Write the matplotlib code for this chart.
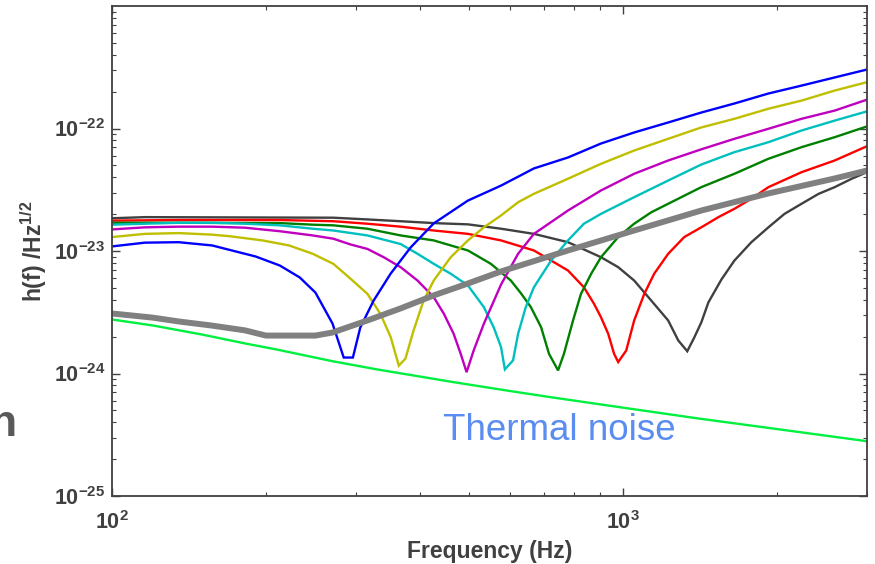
import matplotlib
matplotlib.use('Agg')
import matplotlib.pyplot as plt
from matplotlib.ticker import LogLocator, NullFormatter, FixedLocator, FixedFormatter

plt.rcParams['font.family'] = ['Liberation Sans', 'DejaVu Sans']
plt.rcParams['font.weight'] = 'bold'
plt.rcParams['mathtext.fontset'] = 'custom'
plt.rcParams['mathtext.rm'] = 'Liberation Sans:bold'
plt.rcParams['mathtext.bf'] = 'Liberation Sans:bold'
plt.rcParams['mathtext.it'] = 'Liberation Sans:italic:bold'
plt.rcParams['mathtext.default'] = 'bf'

# ---- data (h values in units of 1e-23 /Hz^1/2) ----
UNIT = 1e-23

f_blue = [100, 116, 135, 157, 170, 191, 213, 233, 250, 270, 284, 296, 306, 325, 351, 384, 426,
          497, 577, 669, 780, 905, 1051, 1225, 1422, 1651, 1924, 2234, 2593, 3000]
h_blue = [1.09, 1.17, 1.18, 1.11, 1.02, 0.902, 0.761, 0.608, 0.458, 0.256, 0.135, 0.135, 0.237,
          0.394, 0.655, 1.07, 1.68, 2.58, 3.42, 4.72, 5.80, 7.54, 9.28, 11.2, 13.5, 16.0, 19.3,
          22.4, 26.1, 30.3]

f_yellow = [100, 116, 135, 157, 170, 197, 222, 247, 271, 293, 316, 335, 351, 364, 375, 389, 407,
            426, 460, 497, 534, 577, 623, 669, 780, 905, 1051, 1225, 1422, 1651, 1924, 2234,
            2593, 3000]
h_yellow = [1.30, 1.38, 1.40, 1.36, 1.32, 1.22, 1.11, 0.949, 0.786, 0.593, 0.447, 0.307, 0.198,
            0.116, 0.132, 0.224, 0.394, 0.574, 0.890, 1.22, 1.56, 1.95, 2.50, 2.93, 3.89, 5.15,
            6.61, 8.24, 10.2, 12.0, 14.5, 16.9, 20.4, 23.9]

f_magenta = [100, 116, 135, 157, 182, 213, 247, 271, 293, 316, 340, 367, 396, 426, 446, 466, 481,
             494, 510, 534, 577, 623, 669, 780, 905, 1051, 1225, 1422, 1651, 1924, 2234, 2593,
             3000]
h_magenta = [1.50, 1.56, 1.58, 1.58, 1.55, 1.45, 1.34, 1.26, 1.13, 1.04, 0.890, 0.738, 0.574,
             0.420, 0.307, 0.211, 0.145, 0.1025, 0.154, 0.255, 0.533, 0.949, 1.38, 2.14, 3.12,
             4.27, 5.48, 6.76, 8.24, 9.95, 12.0, 14.0, 17.2]

f_cyan = [100, 116, 135, 157, 182, 213, 247, 271, 316, 367, 396, 426, 460, 497, 534, 558, 577,
          587, 609, 623, 645, 669, 723, 780, 838, 905, 1051, 1225, 1422, 1651, 1924, 2234, 2593,
          3000]
h_cyan = [1.64, 1.67, 1.70, 1.70, 1.67, 1.62, 1.52, 1.47, 1.34, 1.14, 0.949, 0.786, 0.652, 0.523,
          0.348, 0.239, 0.164, 0.108, 0.128, 0.211, 0.348, 0.506, 0.836, 1.22, 1.67, 2.01, 2.75,
          3.76, 5.08, 6.41, 7.73, 9.63, 11.6, 13.8]

f_green = [100, 135, 213, 247, 271, 316, 367, 426, 497, 551, 603, 631, 660, 691, 716, 746, 766,
           798, 827, 866, 905, 978, 1051, 1135, 1225, 1422, 1651, 1924, 2234, 2593, 3000]
h_green = [1.70, 1.70, 1.69, 1.64, 1.62, 1.52, 1.34, 1.22, 1.01, 0.786, 0.574, 0.452, 0.348,
           0.239, 0.145, 0.106, 0.145, 0.271, 0.447, 0.652, 0.890, 1.30, 1.67, 2.07, 2.43, 3.32,
           4.27, 5.66, 7.04, 8.49, 10.4]

f_red = [100, 135, 213, 271, 316, 367, 426, 497, 577, 669, 723, 780, 838, 877, 905, 935, 960, 978,
         1014, 1051, 1100, 1150, 1225, 1317, 1422, 1536, 1651, 1782, 1924, 2234, 2593, 3000]
h_red = [1.77, 1.79, 1.79, 1.75, 1.67, 1.58, 1.47, 1.38, 1.22, 1.01, 0.836, 0.693, 0.506, 0.371,
         0.288, 0.211, 0.145, 0.124, 0.154, 0.271, 0.447, 0.652, 0.949, 1.30, 1.56, 1.89, 2.21,
         2.67, 3.32, 4.40, 5.48, 7.17]

f_black = [100, 116, 271, 316, 367, 426, 497, 577, 669, 780, 905, 978, 1051, 1135, 1225, 1282,
           1335, 1378, 1422, 1468, 1557, 1651, 1782, 1924, 2069, 2234, 2413, 2593, 2800, 3000]
h_black = [1.85, 1.89, 1.87, 1.81, 1.75, 1.69, 1.65, 1.52, 1.38, 1.18, 0.890, 0.738, 0.574, 0.394,
           0.271, 0.186, 0.152, 0.197, 0.261, 0.380, 0.585, 0.836, 1.18, 1.56, 2.01, 2.43, 2.93,
           3.32, 3.89, 4.40]

f_gray = [100, 120, 135, 157, 182, 200, 250, 270, 316, 367, 426, 497, 577, 780, 1051, 1422, 1924,
          2594, 3000]
h_gray = [0.309, 0.286, 0.266, 0.246, 0.225, 0.204, 0.204, 0.216, 0.271, 0.340, 0.434, 0.543,
          0.681, 1.01, 1.47, 2.14, 2.95, 3.91, 4.54]

f_thermal = [100, 120, 150, 182, 210, 270, 330, 466, 600, 723, 1000, 1400, 2000, 3000]
h_thermal = [0.276, 0.247, 0.208, 0.176, 0.157, 0.126, 0.108, 0.085, 0.072, 0.064, 0.0526,
             0.043, 0.0352, 0.028]

x_ticks = [100, 1000]
x_ticklabels = ['10$^{2}$', '10$^{3}$']
y_ticks = [1e-25, 1e-24, 1e-23, 1e-22]
y_ticklabels = ['10$^{-25}$', '10$^{-24}$', '10$^{-23}$', '10$^{-22}$']

TXT = '#404040'

fig = plt.figure(figsize=(8.75, 5.64), dpi=100)
ax = fig.add_axes([112 / 875, 1 - 496 / 564, (867 - 112) / 875, (496 - 6) / 564])

series = [
    (f_black, h_black, (0.25, 0.25, 0.25)),
    (f_red, h_red, (1.0, 0.0, 0.0)),
    (f_green, h_green, (0.0, 0.5, 0.0)),
    (f_cyan, h_cyan, (0.0, 0.75, 0.75)),
    (f_magenta, h_magenta, (0.75, 0.0, 0.75)),
    (f_yellow, h_yellow, (0.75, 0.75, 0.0)),
    (f_blue, h_blue, (0.0, 0.0, 1.0)),
]
for f, h, c in series:
    ax.plot(f, [v * UNIT for v in h], color=c, lw=1.7, solid_joinstyle='miter')

ax.plot(f_gray, [v * UNIT for v in h_gray], color='#808080', lw=4.3, solid_capstyle='butt')
ax.plot(f_thermal, [v * UNIT for v in h_thermal], color='#00f040', lw=1.7)

ax.set_xscale('log')
ax.set_yscale('log')
ax.set_xlim(100, 3000)
ax.set_ylim(1e-25, 1e-21)

ax.xaxis.set_major_locator(FixedLocator(x_ticks))
ax.xaxis.set_major_formatter(FixedFormatter(x_ticklabels))
ax.xaxis.set_minor_locator(LogLocator(base=10, subs=range(2, 10)))
ax.xaxis.set_minor_formatter(NullFormatter())
ax.yaxis.set_major_locator(FixedLocator(y_ticks))
ax.yaxis.set_major_formatter(FixedFormatter(y_ticklabels))
ax.yaxis.set_minor_locator(LogLocator(base=10, subs=range(2, 10)))
ax.yaxis.set_minor_formatter(NullFormatter())

ax.tick_params(which='both', direction='in', top=True, right=True, color=TXT,
               labelcolor=TXT, labelsize=15.5)
ax.tick_params(which='major', length=6, width=1.0)
ax.tick_params(which='minor', length=3, width=0.8)
ax.tick_params(axis='x', which='major', pad=11)
ax.tick_params(axis='y', which='major', pad=5)
for s in ax.spines.values():
    s.set_color(TXT)
    s.set_linewidth(1.3)

ax.set_xlabel('Frequency (Hz)', fontsize=16.5, fontweight='bold', color=TXT, labelpad=4)
ax.set_ylabel('h(f) /Hz$^{1/2}$', fontsize=16.5, fontweight='bold', color=TXT, labelpad=3)

fig.text(443 / 875, 1 - 440 / 564, 'Thermal noise', fontsize=26.5, color='#5b8cf0',
         ha='left', va='baseline', fontweight='normal')
fig.text(17 / 875, 1 - 436 / 564, 'n', fontsize=32, color='#595959', ha='right',
         va='baseline', fontweight='bold')

fig.savefig('out.png', dpi=100)
